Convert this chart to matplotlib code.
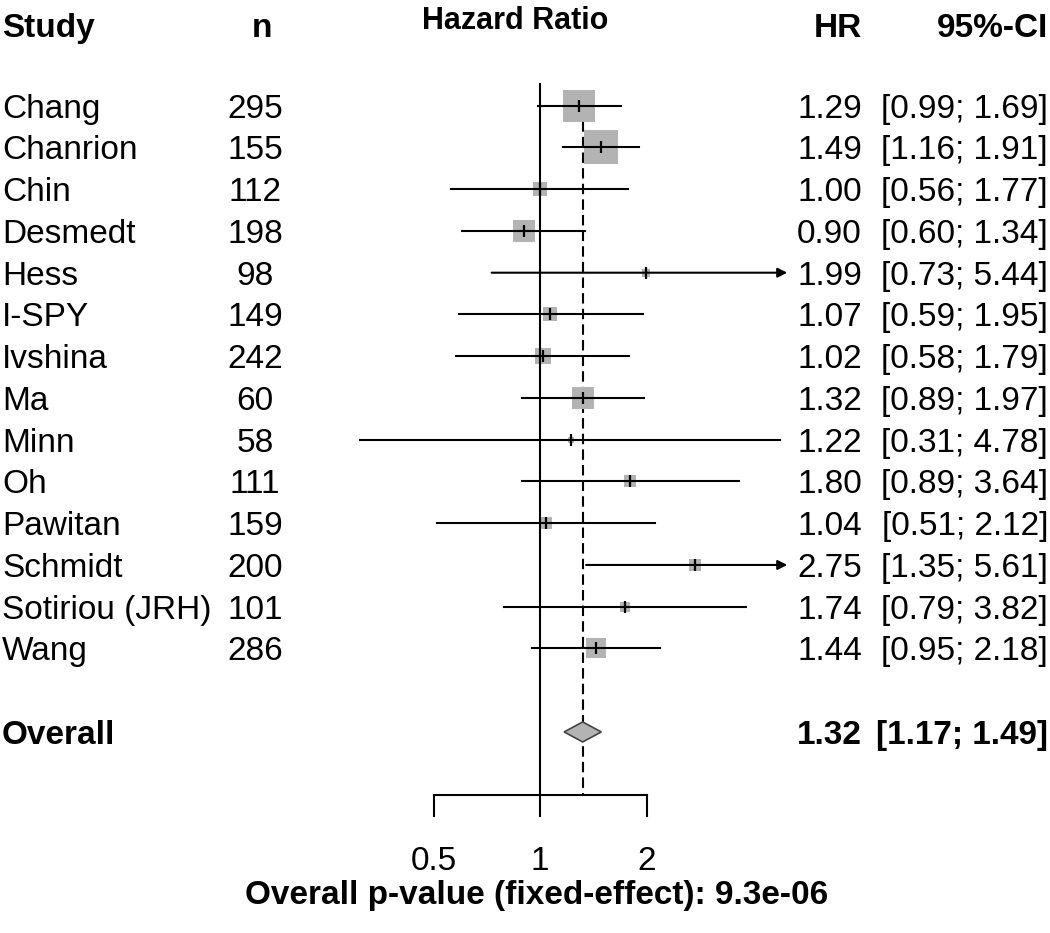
import numpy as np
import matplotlib.pyplot as plt
from matplotlib.patches import Polygon

plt.rcParams["font.family"] = ["Liberation Sans", "DejaVu Sans"]

studies = ["Chang", "Chanrion", "Chin", "Desmedt", "Hess", "I-SPY", "Ivshina",
           "Ma", "Minn", "Oh", "Pawitan", "Schmidt", "Sotiriou (JRH)", "Wang"]
n_patients = [295, 155, 112, 198, 98, 149, 242, 60, 58, 111, 159, 200, 101, 286]
hr = [1.29, 1.49, 1.00, 0.90, 1.99, 1.07, 1.02, 1.32, 1.22, 1.80, 1.04, 2.75, 1.74, 1.44]
ci_low = [0.99, 1.16, 0.56, 0.60, 0.73, 0.59, 0.58, 0.89, 0.31, 0.89, 0.51, 1.35, 0.79, 0.95]
ci_high = [1.69, 1.91, 1.77, 1.34, 5.44, 1.95, 1.79, 1.97, 4.78, 3.64, 2.12, 5.61, 3.82, 2.18]

overall_hr = 1.32
overall_low = 1.17
overall_high = 1.49
p_value = "9.3e-06"
ticks = [0.5, 1, 2]
tick_labels = ["0.5", "1", "2"]

W, H = 1050, 933
FS = 24
SQ_GRAY = "#b3b3b3"

fig = plt.figure(figsize=(W / 100, H / 100), dpi=100)
ax = fig.add_axes([327 / W, 0, 460.3 / W, 1])
ax.set_xscale("log")
xmin, xmax = 0.25, 5.0
ax.set_xlim(xmin, xmax)
ax.set_ylim(H, 0)
ax.axis("off")


def txt(x, y, s, **kw):
    kw.setdefault("fontsize", FS)
    fig.text(x / W, 1 - y / H, s, va="baseline", **kw)


# row layout (pixels from top)
row0, step = 105.7, 41.75
rows = [row0 + step * i for i in range(len(studies))]
overall_y = row0 + step * (len(studies) + 1)
axis_y = 795

# header
txt(2, 37, "Study", fontweight="bold")
txt(262, 37, "n", fontweight="bold", ha="center")
txt(515, 29, "Hazard Ratio", fontweight="bold", ha="center", fontsize=22,
    family=["Liberation Sans Narrow", "Liberation Sans"])
txt(862, 37, "HR", fontweight="bold", ha="right")
txt(1048, 37, "95%-CI", fontweight="bold", ha="right")

# reference lines
ax.plot([1, 1], [84, axis_y], color="black", lw=1.5, zorder=3)
ax.plot([overall_hr, overall_hr], [90, axis_y], color="black", lw=1.5,
        dashes=(5, 2.5), zorder=1)

for i, y in enumerate(rows):
    se = (np.log(ci_high[i]) - np.log(ci_low[i])) / 3.92
    side = 4.37 / se * 0.72
    ax.plot(hr[i], y, marker="s", markersize=side, color=SQ_GRAY,
            markeredgewidth=0, zorder=2)
    if ci_high[i] > xmax:
        ax.annotate("", xy=(xmax, y), xytext=(ci_low[i], y),
                    arrowprops=dict(arrowstyle="-|>", color="black", lw=1.5,
                                    mutation_scale=14, shrinkA=0, shrinkB=0),
                    zorder=4, annotation_clip=False)
    else:
        ax.plot([ci_low[i], ci_high[i]], [y, y], color="black", lw=1.5, zorder=4)
    ax.plot(hr[i], y, marker="|", markersize=8, markeredgewidth=1.6,
            color="black", zorder=5)

    txt(2, y + 12, studies[i])
    txt(255, y + 12, str(n_patients[i]), ha="center")
    txt(862, y + 12, f"{hr[i]:.2f}", ha="right")
    txt(1048, y + 12, f"[{ci_low[i]:.2f}; {ci_high[i]:.2f}]", ha="right")

# overall diamond
diamond = Polygon([(overall_low, overall_y), (overall_hr, overall_y - 10),
                   (overall_high, overall_y), (overall_hr, overall_y + 10)],
                  closed=True, facecolor=SQ_GRAY, edgecolor="#444444", lw=1.2,
                  zorder=5)
ax.add_patch(diamond)
txt(2, overall_y + 12, "Overall", fontweight="bold")
txt(862, overall_y + 12, f"{overall_hr:.2f}", fontweight="bold", ha="right")
txt(1048, overall_y + 12, f"[{overall_low:.2f}; {overall_high:.2f}]",
    fontweight="bold", ha="right")

# x axis
ax.plot([ticks[0], ticks[-1]], [axis_y, axis_y], color="black", lw=1.5)
for t, lab in zip(ticks, tick_labels):
    ax.plot([t, t], [axis_y, axis_y + 21], color="black", lw=1.5)
    ax.text(t, 870, lab, fontsize=FS, ha="center", va="baseline")

txt(537, 904, f"Overall p-value (fixed-effect): {p_value}",
    fontweight="bold", ha="center")

fig.savefig("out.png", dpi=100)
